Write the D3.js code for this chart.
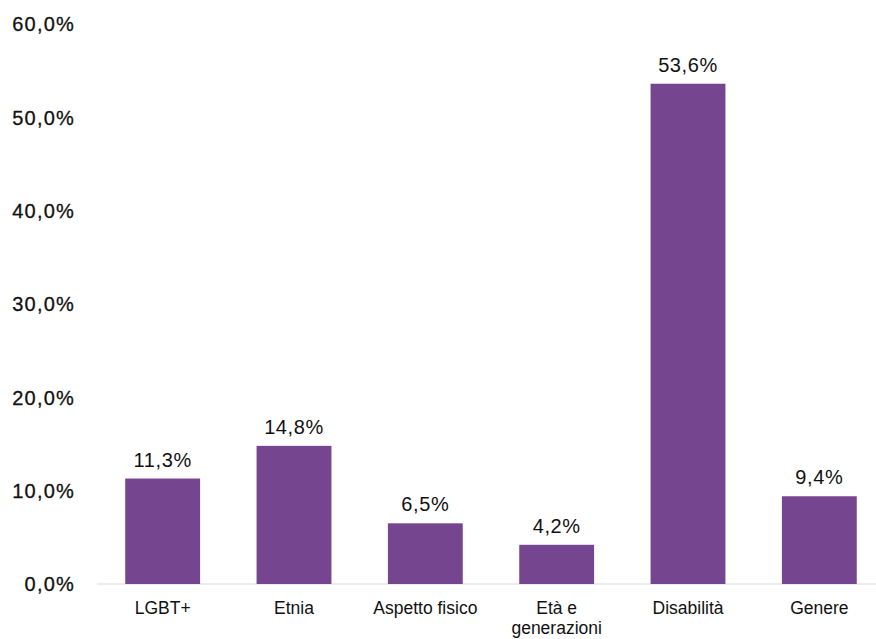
<!DOCTYPE html>
<html><head><meta charset="utf-8">
<script src="https://cdn.jsdelivr.net/npm/d3@7"></script>
<style>
body{margin:0;background:#fff;}
text{font-family:"Liberation Sans",Arial,Helvetica,sans-serif;fill:#111;}
</style></head>
<body><svg id="c" width="876" height="639"></svg>
<script>
const categories = ["LGBT+", "Etnia", "Aspetto fisico", "Età e generazioni", "Disabilità", "Genere"];
const values = [11.3, 14.8, 6.5, 4.2, 53.6, 9.4];
const yTicks = [0, 10, 20, 30, 40, 50, 60];

const svg = d3.select("#c");
const fmt = v => v.toFixed(1).replace(".", ",") + "%";
const x = d3.scaleBand().domain(categories).range([97, 885]).paddingInner(0.43).paddingOuter(0.215);
const y = d3.scaleLinear().domain([0, 60]).range([584, 24]);

// axis line
svg.append("line").attr("x1", 97).attr("x2", 876).attr("y1", y(0)).attr("y2", y(0))
  .attr("stroke", "#d9d9d9").attr("stroke-width", 1);

// y tick labels
svg.selectAll(".yt").data(yTicks).enter().append("text")
  .attr("x", 75).attr("y", d => y(d)).attr("dy", "0.36em")
  .attr("text-anchor", "end").style("font-size", "20px").style("letter-spacing", "1.2px")
  .style("stroke", "#111").style("stroke-width", "0.3px")
  .text(d => fmt(d));

// bars
svg.selectAll(".bar").data(values).enter().append("rect")
  .attr("x", (d, i) => x(categories[i])).attr("width", x.bandwidth())
  .attr("y", d => y(d)).attr("height", d => y(0) - y(d))
  .attr("fill", "#75458f");

// value labels
svg.selectAll(".vl").data(values).enter().append("text")
  .attr("x", (d, i) => x(categories[i]) + x.bandwidth() / 2)
  .attr("y", d => y(d) - 12)
  .attr("text-anchor", "middle").style("font-size", "20px").style("letter-spacing", "0.6px")
  .text(d => fmt(d));

// category labels
const wrap = { "Età e generazioni": ["Età e", "generazioni"] };
categories.forEach(c => {
  const lines = wrap[c] || [c];
  const t = svg.append("text").attr("text-anchor", "middle")
    .attr("x", x(c) + x.bandwidth() / 2).attr("y", 614).style("font-size", "17.5px");
  lines.forEach((l, i) => t.append("tspan").attr("x", x(c) + x.bandwidth() / 2).attr("dy", i ? 20 : 0).text(l));
});
</script></body></html>
